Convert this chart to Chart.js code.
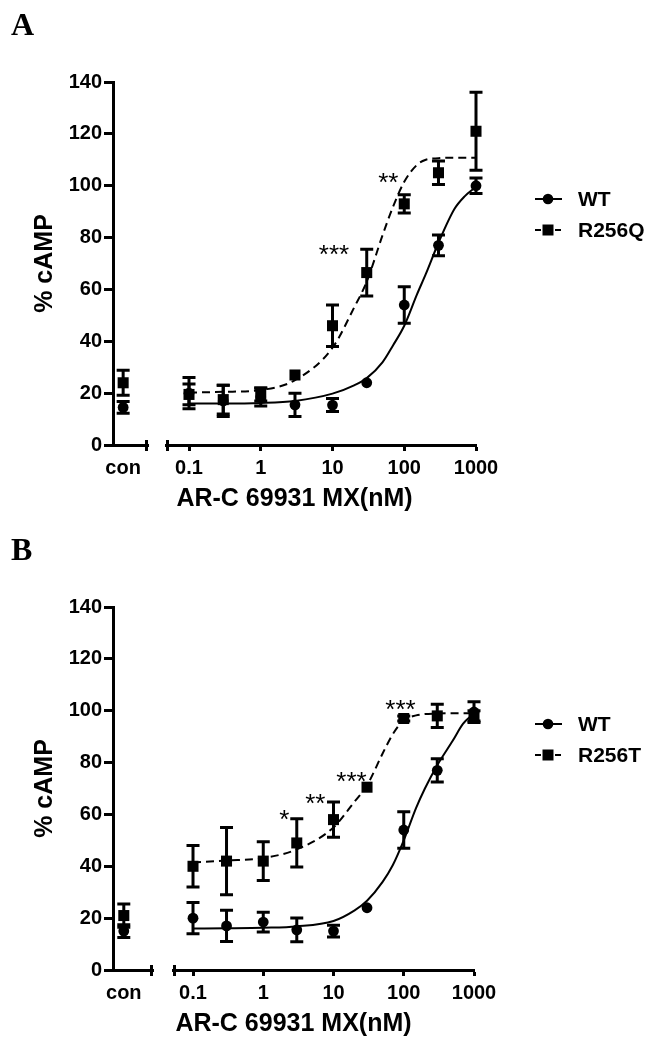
<!DOCTYPE html>
<html>
<head>
<meta charset="utf-8">
<script src="https://cdn.jsdelivr.net/npm/chart.js@4/dist/chart.umd.min.js"></script>
<style>
  body { margin: 0; background: #fff; }
  .panel { position: relative; width: 656px; height: 525px; }
  .panel canvas { display: block; }
  .panel-label { position: absolute; left: 11px; top: 8px; font: bold 32px 'Liberation Serif', 'Times New Roman', serif; line-height: 32px; color: #000; }
</style>
</head>
<body>
<div class="panel"><div class="panel-label">A</div><canvas id="chartA" width="656" height="525"></canvas></div>
<div class="panel"><div class="panel-label">B</div><canvas id="chartB" width="656" height="525"></canvas></div>
<script>
// doses (nM) and log-axis ticks
const doses = [0.1, 0.3, 1, 3, 10, 30, 100, 300, 1000];
const xTicks = [0.1, 1, 10, 100, 1000];
const yTicks = [0, 20, 40, 60, 80, 100, 120, 140];

// panel A: mean and SEM
const wtA = [20, 17, 18.5, 15.5, 15.4, 24, 54, 77, 100];
const wtA_sem = [6, 6, 3.5, 4.5, 2.5, 0, 7, 4, 3];
const wtA_con = [14.5];
const wtA_conSem = [2.3];
const r256q = [19.5, 17.5, 19.5, 27, 46, 66.5, 93, 105, 121];
const r256q_sem = [4, 5.5, 2.5, 0, 8, 9, 3.5, 4.5, 15];
const r256q_con = [24];
const r256q_conSem = [4.8];

// panel B: mean and SEM
const wtB = [20, 17, 18.5, 15.5, 15, 24, 54, 77, 99.5];
const wtB_sem = [6, 6, 3.8, 4.6, 2.3, 0, 7, 4.5, 4];
const wtB_con = [15];
const wtB_conSem = [2.5];
const r256t = [40, 42, 42, 49, 58, 70.5, 97, 98, 98];
const r256t_sem = [8, 13, 7.5, 9.3, 6.8, 0, 1, 4.5, 2];
const r256t_con = [21];
const r256t_conSem = [4.5];

// fitted curves
const fitX = [0.1, 0.3, 1, 3, 10, 20, 30, 50, 70, 100, 150, 200, 300, 500, 700, 1000];
const fitWtA = [16, 16, 16.2, 17, 19.8, 23, 25.8, 32, 38.5, 46, 58, 66, 78, 91, 96, 99.6];
const fitR256Q = [20.2, 20.5, 21.2, 25, 37.5, 53, 63, 81, 92, 101.5, 108, 110, 110.6, 110.8, 110.8, 110.8];
const fitWtB = [16, 16.1, 16.3, 16.8, 18.9, 23, 26.7, 34, 40.5, 50, 62.5, 70, 79, 88.5, 95, 99];
const fitR256T = [41.5, 42.2, 43.2, 46.5, 55, 65, 71.2, 83.5, 91, 96.3, 98.2, 98.7, 98.9, 99, 99, 99];

// significance marks
const starsA_x = [10.5, 60];
const starsA_y = [76, 103.5];
const starsA_text = ['***', '**'];
const starsB_x = [2.0, 5.5, 18, 90];
const starsB_y = [60.3, 66.5, 75, 103];
const starsB_text = ['*', '**', '***', '***'];

Chart.defaults.font.family = "'Liberation Sans', Arial, sans-serif";
Chart.defaults.color = '#000';

const tickFont = { size: 20, weight: 'bold' };
const titleFont = { size: 25, weight: 'bold' };

const errorBars = {
  id: 'errorBars',
  afterDatasetsDraw(chart) {
    const ctx = chart.ctx;
    const yScale = chart.scales.y;
    chart.data.datasets.forEach((ds, i) => {
      if (!ds.errors) return;
      const meta = chart.getDatasetMeta(i);
      ctx.save();
      ctx.strokeStyle = '#000';
      ctx.lineWidth = 3;
      meta.data.forEach((pt, j) => {
        const e = ds.errors[j];
        if (!e) return;
        const v = ds.data[j].y;
        const top = yScale.getPixelForValue(v + e);
        const bot = yScale.getPixelForValue(v - e);
        ctx.beginPath();
        ctx.moveTo(pt.x, top); ctx.lineTo(pt.x, bot);
        ctx.moveTo(pt.x - 6.5, top); ctx.lineTo(pt.x + 6.5, top);
        ctx.moveTo(pt.x - 6.5, bot); ctx.lineTo(pt.x + 6.5, bot);
        ctx.stroke();
      });
      ctx.restore();
    });
  }
};

const decorations = {
  id: 'decorations',
  afterDraw(chart, args, opts) {
    const ctx = chart.ctx;
    const xs = chart.scales.x, ys = chart.scales.y, xc = chart.scales.xc;
    const base = chart.chartArea.bottom;
    ctx.save();
    // axis break marks
    ctx.strokeStyle = '#000';
    ctx.lineWidth = 3;
    ctx.beginPath();
    ctx.moveTo(xc.right - 1.5, base - 5); ctx.lineTo(xc.right - 1.5, base + 6);
    ctx.moveTo(xs.left + 1.5, base - 5); ctx.lineTo(xs.left + 1.5, base + 6);
    ctx.stroke();

    // asterisks
    ctx.font = "26px 'Liberation Sans', Arial, sans-serif";
    ctx.fillStyle = '#000';
    ctx.textAlign = 'center';
    ctx.textBaseline = 'alphabetic';
    opts.starX.forEach((x, i) => {
      const px = xs.getPixelForValue(x);
      const py = ys.getPixelForValue(opts.starY[i]) + 0.57 * 26;
      ctx.fillText(opts.starText[i], px, py);
    });

    // legend
    ctx.textAlign = 'left';
    ctx.textBaseline = 'middle';
    ctx.font = "bold 21px 'Liberation Sans', Arial, sans-serif";
    chart.data.datasets.filter(d => d.legendRow !== undefined).forEach(d => {
      const y = opts.legendY[d.legendRow];
      ctx.lineWidth = 2;
      ctx.setLineDash(d.legendDash);
      ctx.beginPath();
      ctx.moveTo(535, y); ctx.lineTo(562, y);
      ctx.stroke();
      ctx.setLineDash([]);
      ctx.beginPath();
      if (d.pointStyle === 'rect') ctx.rect(548 - 5.5, y - 5.5, 11, 11);
      else ctx.arc(548, y, 5.3, 0, Math.PI * 2);
      ctx.fill();
      ctx.fillText(d.label, 578, y + 1);
    });
    ctx.restore();
  }
};

function pts(xs, ys) {
  return xs.map((x, i) => ({ x: x, y: ys[i] }));
}

function buildPanel(id, p) {
  const markerWT = { pointStyle: 'circle', pointRadius: 5.4, backgroundColor: '#000', borderColor: '#000', borderWidth: 0, showLine: false, clip: false };
  const markerMut = { pointStyle: 'rect', pointRadius: 7.8, backgroundColor: '#000', borderColor: '#000', borderWidth: 0, showLine: false, clip: false };
  const curve = { pointRadius: 0, borderColor: '#000', borderWidth: 2, cubicInterpolationMode: 'monotone', clip: false, fill: false };

  const datasets = [
    Object.assign({ label: 'WT fit', data: pts(fitX, p.wtFit), xAxisID: 'x' }, curve),
    Object.assign({ label: p.mutName + ' fit', data: pts(fitX, p.mutFit), xAxisID: 'x', borderDash: [8, 5] }, curve),
    Object.assign({ label: 'WT', data: pts(doses, p.wt), errors: p.wtSem, xAxisID: 'x', legendRow: 0, legendDash: [] }, markerWT),
    Object.assign({ label: p.mutName, data: pts(doses, p.mut), errors: p.mutSem, xAxisID: 'x', legendRow: 1, legendDash: [6, 4] }, markerMut),
    Object.assign({ label: 'WT con', data: pts([p.conPos], p.wtCon), errors: p.wtConSem, xAxisID: 'xc' }, markerWT),
    Object.assign({ label: p.mutName + ' con', data: pts([p.conPos], p.mutCon), errors: p.mutConSem, xAxisID: 'xc' }, markerMut),
  ];

  const fitH = s => { s.height = 39; };

  return new Chart(document.getElementById(id), {
    type: 'line',
    data: { datasets: datasets },
    plugins: [errorBars, decorations],
    options: {
      responsive: false,
      animation: false,
      events: [],
      layout: { padding: { left: 0, right: p.padRight, top: 82, bottom: 0 } },
      plugins: {
        legend: { display: false },
        tooltip: { enabled: false },
        title: {
          display: true, position: 'bottom', fullSize: false,
          text: 'AR-C 69931 MX(nM)', color: '#000',
          font: titleFont,
          padding: { top: 0, bottom: 11 }
        },
        decorations: { starX: p.starX, starY: p.starY, starText: p.starText, legendY: [199, 230] }
      },
      scales: {
        xc: {
          type: 'linear', position: 'bottom', stack: 'xaxis', stackWeight: p.conWidth,
          min: 0, max: 1,
          afterBuildTicks: s => { s.ticks = [{ value: p.conPos }]; },
          afterFit: fitH,
          ticks: { callback: () => 'con', font: tickFont, padding: 5, maxRotation: 0, autoSkip: false },
          grid: { drawOnChartArea: false, tickLength: 6, tickColor: 'rgba(0,0,0,0)' },
          border: { color: '#000', width: 3 }
        },
        xgap: {
          type: 'linear', position: 'bottom', stack: 'xaxis', stackWeight: p.gapWidth,
          min: 0, max: 1,
          afterFit: fitH,
          ticks: { display: false },
          grid: { display: false },
          border: { display: false }
        },
        x: {
          type: 'logarithmic', position: 'bottom', stack: 'xaxis', stackWeight: p.logWidth,
          min: p.xMin, max: 1000,
          afterBuildTicks: s => { s.ticks = xTicks.map(v => ({ value: v })); },
          afterFit: fitH,
          ticks: { callback: v => String(v), font: tickFont, padding: 5, maxRotation: 0, autoSkip: false },
          grid: { drawOnChartArea: false, tickLength: 6, tickWidth: 3, tickColor: '#000' },
          border: { color: '#000', width: 3 }
        },
        y: {
          min: 0, max: 140,
          afterBuildTicks: s => { s.ticks = yTicks.map(v => ({ value: v })); },
          afterFit: s => { s.width = 113; },
          ticks: { font: tickFont, padding: 2 },
          grid: { drawOnChartArea: false, tickLength: 9, tickWidth: 3, tickColor: '#000' },
          border: { color: '#000', width: 3 },
          title: { display: true, text: '% cAMP', font: titleFont, padding: { top: 30, bottom: 0 } }
        }
      }
    }
  });
}

buildPanel('chartA', {
  mutName: 'R256Q',
  wt: wtA, wtSem: wtA_sem, wtCon: wtA_con, wtConSem: wtA_conSem,
  mut: r256q, mutSem: r256q_sem, mutCon: r256q_con, mutConSem: r256q_conSem,
  wtFit: fitWtA, mutFit: fitR256Q,
  starX: starsA_x, starY: starsA_y, starText: starsA_text,
  conPos: 0.29, conWidth: 35, gapWidth: 18, logWidth: 310, padRight: 180, xMin: 0.0478
});

buildPanel('chartB', {
  mutName: 'R256T',
  wt: wtB, wtSem: wtB_sem, wtCon: wtB_con, wtConSem: wtB_conSem,
  mut: r256t, mutSem: r256t_sem, mutCon: r256t_con, mutConSem: r256t_conSem,
  wtFit: fitWtB, mutFit: fitR256T,
  starX: starsB_x, starY: starsB_y, starText: starsB_text,
  conPos: 0.27, conWidth: 40, gapWidth: 20, logWidth: 301, padRight: 182, xMin: 0.0519
});
</script>
</body>
</html>
